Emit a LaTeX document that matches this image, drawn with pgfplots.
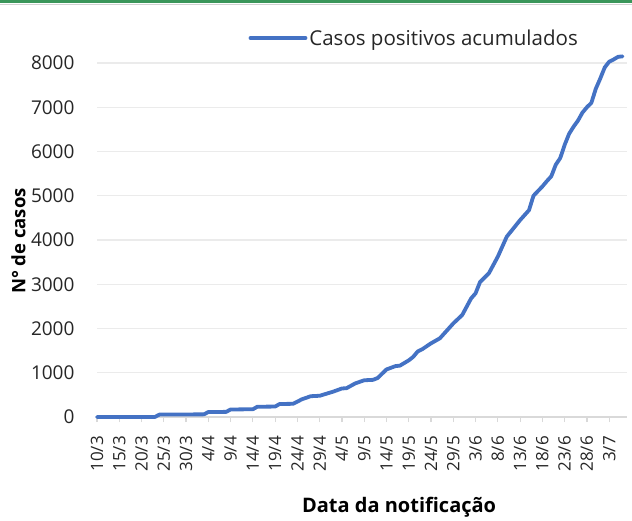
\documentclass[border=0pt]{standalone}
\usepackage{fontspec}
\setmainfont{Open Sans}
\usepackage{pgfplots}
\pgfplotsset{compat=1.18}
\definecolor{xlblue}{HTML}{4472C4}
\definecolor{gridc}{HTML}{EBEBEB}
\definecolor{axc}{HTML}{D9D9D9}
\definecolor{topgreen}{RGB}{58,150,90}
\begin{document}
\begin{tikzpicture}[x=1pt,y=1pt]
\useasboundingbox (0,0) rectangle (632,520);
\fill[white] (0,0) rectangle (632,520);
\fill[topgreen] (0,516.5) rectangle (632,520);
\draw[gray!35, line width=1pt] (0,515) -- (632,515);
\begin{axis}[
  at={(97pt,103pt)}, anchor=south west,
  scale only axis, width=530pt, height=354pt,
  xmin=0, xmax=119, ymin=0, ymax=8000,
  clip=false,
  axis y line*=left, axis x line*=bottom,
  y axis line style={draw=none},
  x axis line style={axc, line width=1.3pt},
  xtick={0,5,...,115},
  xticklabels={10/3,15/3,20/3,25/3,30/3,4/4,9/4,14/4,19/4,24/4,29/4,4/5,9/5,14/5,19/5,24/5,29/5,3/6,8/6,13/6,18/6,23/6,28/6,3/7},
  xticklabel style={rotate=90, anchor=east, font=\fontsize{17}{19}\selectfont, text=black!85, inner sep=0pt, xshift=-14pt},
  x tick style={axc, line width=1.2pt},
  tick align=outside, major tick length=5pt,
  ytick={0,1000,...,8000},
  y tick style={draw=none},
  yticklabel style={font=\fontsize{19}{21}\selectfont, text=black!85, xshift=-14pt},
  /pgf/number format/assume math mode=true,
  /pgf/number format/set thousands separator={},
  ymajorgrids, grid style={gridc, line width=1.3pt},
  xlabel={Data da notificação},
  ylabel={N° de casos},
  xlabel style={at={(axis description cs:0.57,-0.254)}, anchor=center, font=\fontsize{20}{22}\selectfont\bfseries},
  ylabel style={at={(axis description cs:-0.148,0.497)}, anchor=center, rotate=0, font=\fontsize{18.5}{20}\selectfont\bfseries},
  legend style={draw=none, fill=none, at={(axis description cs:0.9113,1.0706)}, anchor=east, inner sep=0pt, font=\fontsize{20.5}{22}\selectfont, text=black!85},
  legend image code/.code={\draw[#1, line width=3.8pt] (0pt,0pt) -- (55pt,0pt);},
]
\addplot[xlblue, line width=3.8pt, line join=round, line cap=round] coordinates {
(0,0)(13,0)(14,55)(24,60)(25,112)(29,116)(30,170)(35,175)(36,232)(40,236)(41,294)(44,298)
(46,400)(48,470)(50,480)(53,572)(55,645)(56,650)(58,760)(60,830)(62,840)(63,880)(65,1075)
(67,1150)(68,1160)(70,1280)(71,1360)(72,1480)(73,1530)(75,1665)(77,1780)(80,2115)(82,2305)
(84,2680)(85,2795)(86,3050)(87,3150)(88,3250)(90,3625)(92,4075)(93,4200)(95,4450)(97,4675)
(98,5000)(100,5210)(101,5330)(102,5440)(103,5700)(104,5850)(105,6150)(106,6400)(107,6560)
(108,6700)(109,6880)(110,7000)(111,7100)(112,7420)(113,7650)(114,7900)(115,8030)(116,8080)
(117,8140)(118,8150)
};
\addlegendentry{Casos positivos acumulados}
\end{axis}
\end{tikzpicture}
\end{document}
